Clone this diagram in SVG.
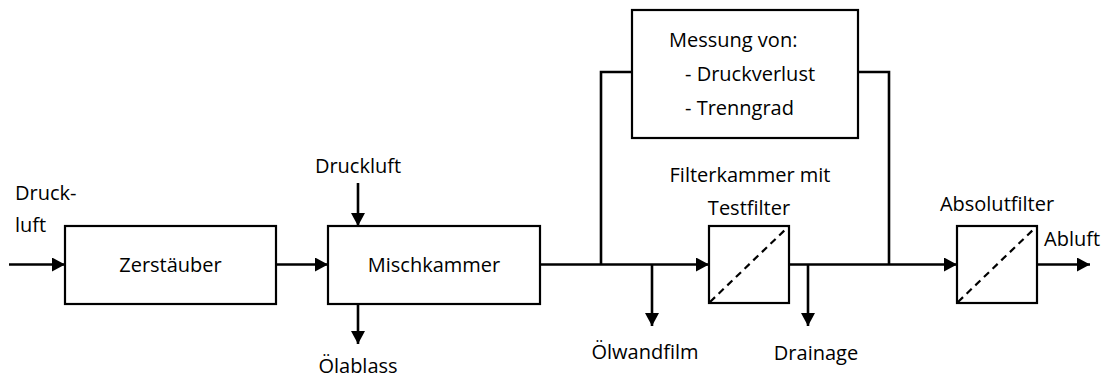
<svg xmlns="http://www.w3.org/2000/svg" width="1112" height="379" viewBox="0 0 1112 379">
<style>
text{font-family:"Open Sans","Noto Sans",sans-serif;font-size:20px;fill:#000}
.box{fill:#fff;stroke:#000;stroke-width:2.2}
.ln{fill:none;stroke:#000;stroke-width:2.6}
.arr{marker-end:url(#ah)}
.dash{stroke:#000;stroke-width:2.2;stroke-dasharray:7 5}
</style>
<defs>
<marker id="ah" markerUnits="userSpaceOnUse" markerWidth="14" markerHeight="14" refX="13" refY="7" orient="auto">
<path d="M0,0 L13,7 L0,14 z" fill="#000"/>
</marker>
</defs>
<g id="connectors">
<line class="ln arr" x1="9" y1="264.5" x2="65" y2="264.5"/>
<line class="ln arr" x1="276" y1="264.5" x2="328" y2="264.5"/>
<line class="ln arr" x1="358" y1="183" x2="358" y2="226"/>
<line class="ln arr" x1="358" y1="304" x2="358" y2="344"/>
<line class="ln arr" x1="540" y1="264.5" x2="709" y2="264.5"/>
<line class="ln arr" x1="652" y1="264.5" x2="652" y2="326"/>
<polyline class="ln" points="601,264.5 601,72 632,72"/>
<polyline class="ln" points="858,72 889,72 889,264.5"/>
<line class="ln arr" x1="789" y1="264.5" x2="957" y2="264.5"/>
<line class="ln arr" x1="808" y1="264.5" x2="808" y2="326"/>
<line class="ln arr" x1="1037" y1="264.5" x2="1090" y2="264.5"/>
</g>
<g id="input-label">
<text x="15" y="200">Druck-</text>
<text x="15" y="232">luft</text>
</g>
<g id="zerstaeuber">
<rect class="box" x="65" y="226" width="211" height="78"/>
<text x="170.5" y="272" text-anchor="middle">Zerstäuber</text>
</g>
<g id="druckluft-label">
<text x="358" y="173" text-anchor="middle">Druckluft</text>
</g>
<g id="mischkammer">
<rect class="box" x="328" y="226" width="212" height="78"/>
<text x="434" y="272" text-anchor="middle">Mischkammer</text>
</g>
<g id="oelablass-label">
<text x="358" y="373" text-anchor="middle">Ölablass</text>
</g>
<g id="messung">
<rect class="box" x="632" y="10" width="226" height="128"/>
<text x="669" y="47">Messung von:</text>
<text x="685" y="81">- Druckverlust</text>
<text x="685" y="115">- Trenngrad</text>
</g>
<g id="oelwandfilm-label">
<text x="645" y="359" text-anchor="middle">Ölwandfilm</text>
</g>
<g id="testfilter">
<text x="750" y="182" text-anchor="middle">Filterkammer mit</text>
<text x="749" y="215" text-anchor="middle">Testfilter</text>
<rect class="box" x="709" y="226" width="80" height="77"/>
<line class="dash" x1="710" y1="302" x2="788" y2="227"/>
</g>
<g id="drainage-label">
<text x="816" y="360" text-anchor="middle">Drainage</text>
</g>
<g id="absolutfilter">
<text x="997" y="211" text-anchor="middle">Absolutfilter</text>
<rect class="box" x="957" y="226" width="80" height="77"/>
<line class="dash" x1="958" y1="302" x2="1036" y2="227"/>
</g>
<g id="abluft-label">
<text x="1044" y="246">Abluft</text>
</g>
</svg>
